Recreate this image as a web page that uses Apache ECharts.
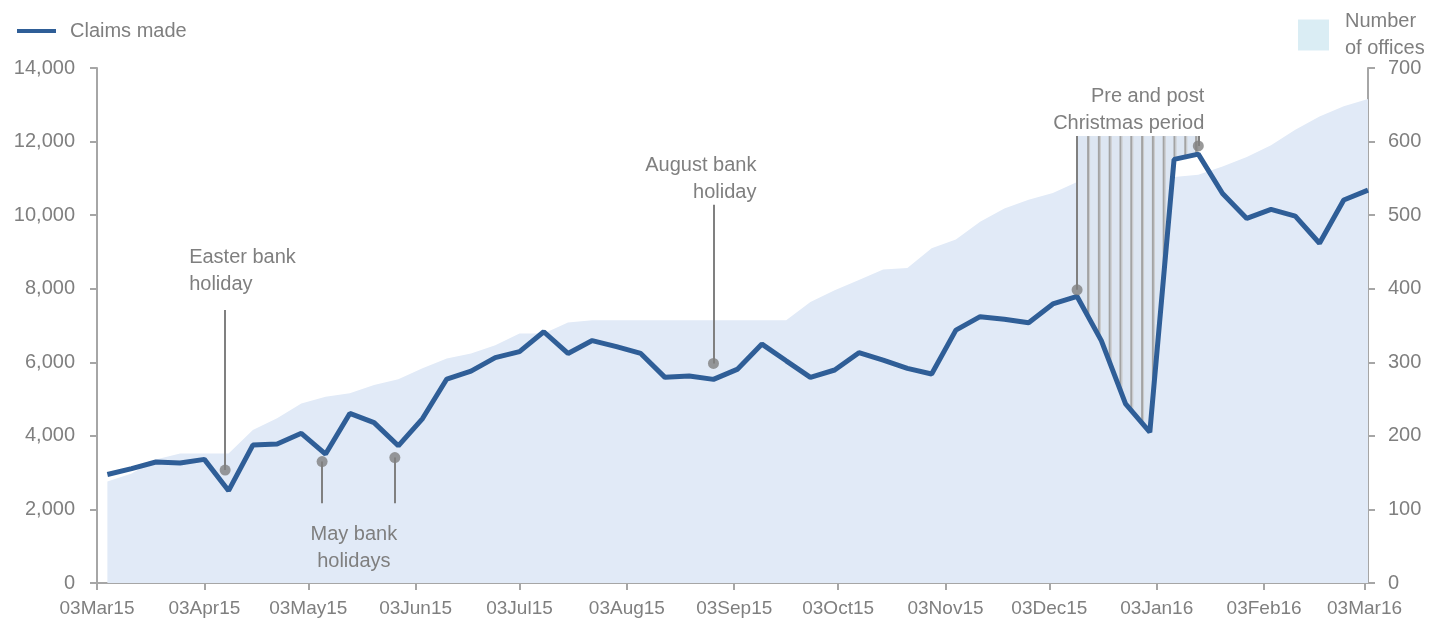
<!DOCTYPE html>
<html>
<head>
<meta charset="utf-8">
<script src="https://cdn.jsdelivr.net/npm/echarts@6/dist/echarts.min.js"></script>
<style>
  html, body { margin: 0; padding: 0; background: #fff; }
  #chart { width: 1432px; height: 618px; }
</style>
</head>
<body>
<div id="chart"></div>
<script>
////////////////////////////////////////////////////////////////
// data
// weekly points (week ending Friday)
const weekDates = [
  '2015-03-06', '2015-03-13', '2015-03-20', '2015-03-27',
  '2015-04-03', '2015-04-10', '2015-04-17', '2015-04-24',
  '2015-05-01', '2015-05-08', '2015-05-15', '2015-05-22', '2015-05-29',
  '2015-06-05', '2015-06-12', '2015-06-19', '2015-06-26',
  '2015-07-03', '2015-07-10', '2015-07-17', '2015-07-24', '2015-07-31',
  '2015-08-07', '2015-08-14', '2015-08-21', '2015-08-28',
  '2015-09-04', '2015-09-11', '2015-09-18', '2015-09-25',
  '2015-10-02', '2015-10-09', '2015-10-16', '2015-10-23', '2015-10-30',
  '2015-11-06', '2015-11-13', '2015-11-20', '2015-11-27',
  '2015-12-04', '2015-12-11', '2015-12-18', '2015-12-25',
  '2016-01-01', '2016-01-08', '2016-01-15', '2016-01-22', '2016-01-29',
  '2016-02-05', '2016-02-12', '2016-02-19', '2016-02-26',
  '2016-03-04'
];

const claimsMade = [
  2950, 3110, 3290, 3260, 3360, 2510, 3750, 3780, 4070, 3505,
  4610, 4360, 3730, 4470, 5545, 5760, 6125, 6290, 6830, 6240,
  6590, 6425, 6240, 5590, 5625, 5535, 5815, 6495, 6040, 5590,
  5790, 6260, 6060, 5835, 5680, 6875, 7240, 7170, 7075, 7585,
  7790, 6590, 4870, 4100, 11515, 11660, 10590, 9910, 10155, 9975,
  9235, 10410, 10680
];

const numberOfOffices = [
  138, 149, 168, 176, 176, 176, 208, 224, 244, 253,
  258, 269, 277, 292, 305, 312, 323, 339, 339, 354,
  357, 357, 357, 357, 357, 357, 357, 357, 357, 382,
  398, 412, 426, 428, 455, 467, 491, 509, 521, 530,
  545, 548, 550, 551, 552, 555, 566, 579, 595, 616,
  634, 648, 658
];

const tickDates = [
  '2015-03-03', '2015-04-03', '2015-05-03', '2015-06-03', '2015-07-03',
  '2015-08-03', '2015-09-03', '2015-10-03', '2015-11-03', '2015-12-03',
  '2016-01-03', '2016-02-03', '2016-03-03'
];
const tickLabels = [
  '03Mar15', '03Apr15', '03May15', '03Jun15', '03Jul15', '03Aug15', '03Sep15',
  '03Oct15', '03Nov15', '03Dec15', '03Jan16', '03Feb16', '03Mar16'
];

// christmas shaded period (indices into weekDates) and its upper edge
const xmasStart = 40;
const xmasEnd = 45;
const xmasTop = 12150;

// annotations: dot on the left axis scale, leader line to "tip"
const notes = [
  { date: '2015-04-09', dot: 3070, tip: 7420, label: 'Easter bank\nholiday', align: 'left', dx: -36, dy: -66 },
  { date: '2015-05-07', dot: 3300, tip: 2170 },
  { date: '2015-05-28', dot: 3410, tip: 2170, label: 'May bank\nholidays', align: 'center', dx: -41, dy: 18 },
  { date: '2015-08-28', dot: 5970, tip: 10280, label: 'August bank\nholiday', align: 'right', dx: 43, dy: -53 },
  { date: '2015-12-11', dot: 7970, tip: xmasTop },
  { date: '2016-01-15', dot: 11880, tip: xmasTop, label: 'Pre and post\nChristmas period', align: 'right', dx: 6, dy: -53 }
];

////////////////////////////////////////////////////////////////
// helpers
const FONT = "'Liberation Sans', Arial, sans-serif";
const GREY = '#7f7f7f';
const ts = (d) => new Date(d + 'T00:00:00Z').getTime();

const tickTs = tickDates.map(ts);

const claimsData = weekDates.map((d, i) => [ts(d), claimsMade[i]]);
const officesData = weekDates.map((d, i) => [ts(d), numberOfOffices[i]]);

// hatched band between the claims line and xmasTop, vertical stripes
function renderXmas(params, api) {
  const pts = [];
  for (let i = xmasStart; i <= xmasEnd; i++) {
    pts.push(api.coord([ts(weekDates[i]), claimsMade[i]]));
  }
  const topY = api.coord([ts(weekDates[xmasStart]), xmasTop])[1];
  const x0 = pts[0][0];
  const x1 = pts[pts.length - 1][0];
  const children = [{
    type: 'polygon',
    shape: { points: [[x0, topY], [x1, topY]].concat(pts.slice().reverse()) },
    style: { fill: '#dde6f2' }
  }];
  // stripes every ~11px, running down to the line
  for (let x = x0 + 11; x < x1 - 1; x += 10.8) {
    let y = topY;
    for (let j = 0; j < pts.length - 1; j++) {
      const a = pts[j], b = pts[j + 1];
      if (x >= a[0] && x <= b[0]) {
        y = a[1] + (b[1] - a[1]) * (x - a[0]) / (b[0] - a[0]);
        break;
      }
    }
    if (y - topY < 2) continue;
    children.push({
      type: 'line',
      shape: { x1: x, y1: topY, x2: x, y2: y },
      style: { stroke: '#a3a3a3', lineWidth: 2 }
    });
    children.push({
      type: 'line',
      shape: { x1: x + 1.5, y1: topY, x2: x + 1.5, y2: y },
      style: { stroke: '#c9c9c9', lineWidth: 1 }
    });
  }
  return { type: 'group', children: children };
}

////////////////////////////////////////////////////////////////
// chart
const chartDom = document.getElementById('chart');
const myChart = echarts.init(chartDom);

const option = {
  animation: false,
  textStyle: { fontFamily: FONT },
  grid: { left: 97, right: 64, top: 68, bottom: 35 },
  legend: [
    {
      left: 17, top: 21, padding: 0,
      icon: 'rect', itemWidth: 39, itemHeight: 4,
      textStyle: { color: GREY, fontSize: 20, fontFamily: FONT, padding: [2, 0, 0, 9] },
      data: ['Claims made']
    },
    {
      left: 1298, top: 8, padding: 0,
      icon: 'rect', itemWidth: 31, itemHeight: 31,
      formatter: () => 'Number\nof offices',
      textStyle: { color: GREY, fontSize: 20, fontFamily: FONT, lineHeight: 27, padding: [0, 0, 0, 11] },
      data: [{ name: 'Number of offices', itemStyle: { color: '#daedf4', borderWidth: 0 } }]
    }
  ],
  xAxis: {
    type: 'value',
    min: ts('2015-03-03'),
    max: ts('2016-03-04'),
    splitLine: { show: false },
    axisLine: { lineStyle: { color: '#a6a6a6', width: 2 } },
    axisTick: { show: true, length: 7, customValues: tickTs, lineStyle: { color: '#a6a6a6', width: 2 } },
    axisLabel: {
      customValues: tickTs,
      color: GREY, fontSize: 19, fontFamily: FONT, margin: 16,
      formatter: (v) => {
        const k = tickTs.indexOf(v);
        return k >= 0 ? tickLabels[k] : '';
      }
    }
  },
  yAxis: [
    {
      type: 'value', min: 0, max: 14000, interval: 2000,
      splitLine: { show: false },
      axisLine: { show: true, lineStyle: { color: '#a6a6a6', width: 2 } },
      axisTick: { show: true, length: 7, lineStyle: { color: '#a6a6a6', width: 2 } },
      axisLabel: {
        color: GREY, fontSize: 20, fontFamily: FONT, margin: 22,
        formatter: (v) => v.toLocaleString('en-GB')
      }
    },
    {
      type: 'value', min: 0, max: 700, interval: 100, position: 'right',
      splitLine: { show: false },
      axisLine: { show: true, lineStyle: { color: '#a6a6a6', width: 2 } },
      axisTick: { show: true, length: 7, lineStyle: { color: '#a6a6a6', width: 2 } },
      axisLabel: { color: GREY, fontSize: 20, fontFamily: FONT, margin: 20 }
    }
  ],
  series: [
    {
      name: 'Number of offices',
      type: 'line',
      yAxisIndex: 1,
      data: officesData,
      symbol: 'none',
      color: '#e1eaf7',
      lineStyle: { width: 0 },
      areaStyle: { color: '#e1eaf7', opacity: 1 },
      z: 1
    },
    {
      name: 'xmas',
      type: 'custom',
      yAxisIndex: 0,
      data: [[ts(weekDates[xmasStart]), xmasTop]],
      renderItem: renderXmas,
      silent: true,
      z: 2
    },
    {
      name: 'Claims made',
      type: 'line',
      data: claimsData,
      symbol: 'none',
      color: '#2f5e97',
      lineStyle: { width: 5, color: '#2f5e97' },
      z: 5
    },
    {
      name: 'leaders',
      type: 'lines',
      coordinateSystem: 'cartesian2d',
      data: notes.map((n) => ({ coords: [[ts(n.date), n.dot], [ts(n.date), n.tip]] })),
      lineStyle: { color: '#808080', width: 2, opacity: 1 },
      z: 6
    },
    {
      name: 'dots',
      type: 'scatter',
      data: notes.map((n) => [ts(n.date), n.dot]),
      symbolSize: 11,
      itemStyle: { color: GREY },
      z: 7
    }
  ]
};

option && myChart.setOption(option);

// annotation labels, placed from the tip of each leader line
const labels = [];
notes.forEach((n) => {
  if (!n.label) return;
  const p = myChart.convertToPixel({ xAxisIndex: 0, yAxisIndex: 0 }, [ts(n.date), n.tip]);
  labels.push({
    type: 'text',
    x: p[0] + n.dx,
    y: p[1] + n.dy,
    z: 10,
    style: {
      text: n.label,
      fill: GREY,
      font: '20px ' + FONT,
      lineHeight: 27,
      align: n.align,
      verticalAlign: 'top'
    }
  });
});
myChart.setOption({ graphic: labels });
</script>
</body>
</html>
